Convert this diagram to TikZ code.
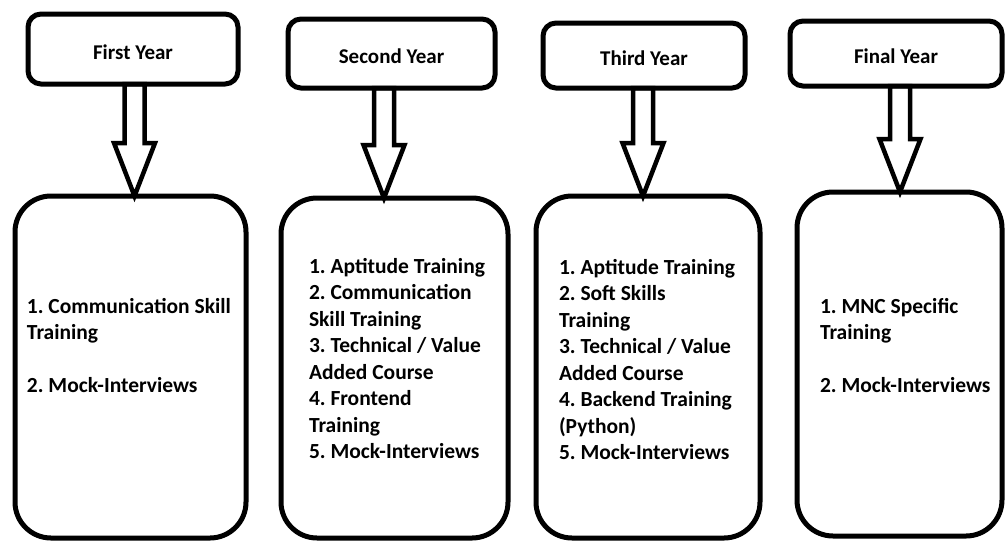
\documentclass[tikz,border=0pt]{standalone}
\usepackage{fontspec}
\setmainfont{Carlito}
\usetikzlibrary{calc}
\frenchspacing
\tikzset{
  hdrbox/.style={draw, line width=5pt, rounded corners=13pt, inner sep=0pt, outer sep=0pt,
    font=\bfseries\fontsize{21}{26.5}\selectfont},
  bodybox/.style={draw, line width=5pt, rounded corners=36pt, inner sep=0pt, outer sep=0pt},
  bodytext/.style={anchor=north west, inner sep=0pt, outer sep=0pt, align=left,
    font=\bfseries\fontsize{21.5}{26.5}\selectfont},
  blockarr/.style={draw, line width=4.5pt, line join=miter}
}
\newcommand\yeararrow[3]{%
  \draw[blockarr] ($(#3 |- #1.south)+(-10,0)$) -- ($(#3 |- #1.south)+(10,0)$)
    -- ($(#3 |- #2.north)+(10,-53)$) -- ($(#3 |- #2.north)+(20.5,-53)$)
    -- (#3 |- #2.north) -- ($(#3 |- #2.north)+(-20.5,-53)$)
    -- ($(#3 |- #2.north)+(-10,-53)$) -- cycle;}
\newcommand\hdrtext[1]{\raisebox{-3pt}[\height][\depth]{#1}}
\begin{document}
\begin{tikzpicture}[x=1pt,y=-1pt]
\fill[white] (0,0) rectangle (1005,542);
\useasboundingbox (0,0) rectangle (1005,542);

% headers
\node[hdrbox, minimum width=210pt, minimum height=70pt] (h1) at (133,49) {\hdrtext{First Year}};
\node[hdrbox, minimum width=207pt, minimum height=69pt] (h2) at (391.5,53.5) {\hdrtext{Second Year}};
\node[hdrbox, minimum width=202pt, minimum height=65pt] (h3) at (644,55.5) {\hdrtext{Third Year}};
\node[hdrbox, minimum width=212pt, minimum height=65pt] (h4) at (896,53.5) {\hdrtext{Final Year}};

% bodies
\node[bodybox, minimum width=231pt, minimum height=342pt] (b1) at (130.5,367) {};
\node[bodybox, minimum width=227pt, minimum height=340pt] (b2) at (394.5,368) {};
\node[bodybox, minimum width=224pt, minimum height=342pt] (b3) at (648,367) {};
\node[bodybox, minimum width=205pt, minimum height=344pt] (b4) at (899.5,364) {};

% texts
\node[bodytext] (t1) at (27,298) {1. Communication Skill\\Training\\[26.5pt]2. Mock-Interviews};
\node[bodytext] (t2) at (309,258) {1. Aptitude Training\\2. Communication\\Skill Training\\3. Technical / Value\\Added Course\\4. Frontend\\Training\\5. Mock-Interviews};
\node[bodytext] (t3) at (559,259) {1. Aptitude Training\\2. Soft Skills\\Training\\3. Technical / Value\\Added Course\\4. Backend Training\\(Python)\\5. Mock-Interviews};
\node[bodytext] (t4) at (820,298) {1. MNC Specific\\Training\\[26.5pt]2. Mock-Interviews};

% arrows
\coordinate (a1) at (134.5,0);
\coordinate (a2) at (384,0);
\coordinate (a3) at (643,0);
\coordinate (a4) at (900,0);
\yeararrow{h1}{b1}{a1}
\yeararrow{h2}{b2}{a2}
\yeararrow{h3}{b3}{a3}
\yeararrow{h4}{b4}{a4}
\end{tikzpicture}
\end{document}
